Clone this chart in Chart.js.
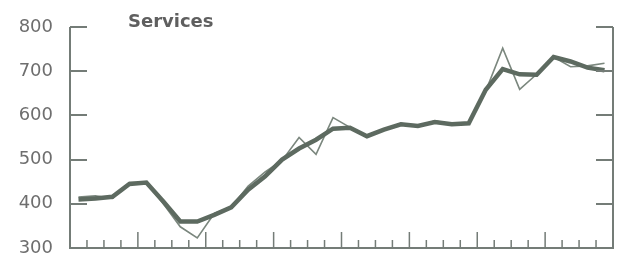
<!DOCTYPE html>
<html>
<head>
<meta charset="utf-8">
<style>
  body { margin: 0; background: #fff; }
  #wrap { width: 621px; height: 256px; }
</style>
<script src="https://cdn.jsdelivr.net/npm/chart.js@4.4.0/dist/chart.umd.min.js"></script>
</head>
<body>
<div id="wrap"><canvas id="services-chart" width="621" height="256"></canvas></div>
<script>
// quarters, 8 years
const quarters = [
    'Y1 Q1', 'Y1 Q2', 'Y1 Q3', 'Y1 Q4', 'Y2 Q1', 'Y2 Q2', 'Y2 Q3', 'Y2 Q4',
    'Y3 Q1', 'Y3 Q2', 'Y3 Q3', 'Y3 Q4', 'Y4 Q1', 'Y4 Q2', 'Y4 Q3', 'Y4 Q4',
    'Y5 Q1', 'Y5 Q2', 'Y5 Q3', 'Y5 Q4', 'Y6 Q1', 'Y6 Q2', 'Y6 Q3', 'Y6 Q4',
    'Y7 Q1', 'Y7 Q2', 'Y7 Q3', 'Y7 Q4', 'Y8 Q1', 'Y8 Q2', 'Y8 Q3', 'Y8 Q4'
];

// raw series (thin line)
const rawValues = [
    415, 418, 412, 448, 448, 400, 348, 323,
    378, 393, 440, 472, 498, 550, 512, 595,
    573, 552, 568, 582, 576, 588, 580, 583,
    655, 752, 659, 693, 732, 710, 712, 718
];

// smoothed series (thick line)
const trendValues = [
    410, 412, 416, 445, 448, 405, 360, 360,
    375, 392, 432, 462, 500, 525, 545, 570,
    572, 553, 568, 580, 576, 585, 580, 582,
    658, 705, 693, 692, 732, 722, 708, 702
];

const yTicks = [400, 500, 600, 700, 800];
const chartTitle = 'Services';

const axisColor = '#747c77';
const textColor = '#6e6e6e';

// frame, inward ticks and the title
const framePlugin = {
    id: 'frame',
    afterDraw(chart) {
        const ctx = chart.ctx;
        const area = chart.chartArea;
        const x = chart.scales.x;
        const y = chart.scales.y;

        ctx.save();
        ctx.strokeStyle = axisColor;
        ctx.lineWidth = 2;
        ctx.beginPath();
        ctx.moveTo(area.left, area.top);
        ctx.lineTo(area.left, area.bottom);
        ctx.lineTo(area.right, area.bottom);
        ctx.lineTo(area.right, area.top);
        ctx.stroke();

        // y ticks on both sides
        ctx.beginPath();
        yTicks.forEach(v => {
            const py = Math.round(y.getPixelForValue(v));
            ctx.moveTo(area.left, py);
            ctx.lineTo(area.left + 17, py);
            ctx.moveTo(area.right, py);
            ctx.lineTo(area.right - 17, py);
        });
        ctx.stroke();

        // quarter ticks between points, taller at year starts
        ctx.lineWidth = 1.5;
        ctx.beginPath();
        for (let k = 1; k < quarters.length; k++) {
            const px = (x.getPixelForValue(k - 1) + x.getPixelForValue(k)) / 2;
            const len = (k % 4 === 0) ? 16 : 8;
            ctx.moveTo(px, area.bottom);
            ctx.lineTo(px, area.bottom - len);
        }
        ctx.stroke();

        ctx.fillStyle = '#5f5f5f';
        ctx.font = 'bold 18px "DejaVu Sans"';
        ctx.textBaseline = 'alphabetic';
        ctx.fillText(chartTitle, 128, 27);
        ctx.restore();
    }
};

const ctx = document.getElementById('services-chart').getContext('2d');

new Chart(ctx, {
    type: 'line',
    data: {
        labels: quarters,
        datasets: [{
            label: 'Trend',
            data: trendValues,
            borderColor: '#5d6a60',
            borderWidth: 4.5,
            pointRadius: 0,
            tension: 0
        }, {
            label: 'Actual',
            data: rawValues,
            borderColor: '#7b877e',
            borderWidth: 1.6,
            pointRadius: 0,
            tension: 0
        }]
    },
    options: {
        responsive: false,
        animation: false,
        layout: { padding: { top: 27, right: 8, bottom: 8, left: 0 } },
        plugins: {
            legend: { display: false },
            tooltip: { enabled: false }
        },
        scales: {
            x: {
                display: false,
                offset: true
            },
            y: {
                min: 300,
                max: 800,
                grid: { display: false, drawTicks: false },
                border: { display: false },
                ticks: {
                    stepSize: 100,
                    padding: 17,
                    color: textColor,
                    font: { family: 'DejaVu Sans', size: 18 }
                },
                afterFit(scale) {
                    scale.width = 70;
                    scale.paddingTop = 0;
                    scale.paddingBottom = 0;
                }
            }
        }
    },
    plugins: [framePlugin]
});
</script>
</body>
</html>
